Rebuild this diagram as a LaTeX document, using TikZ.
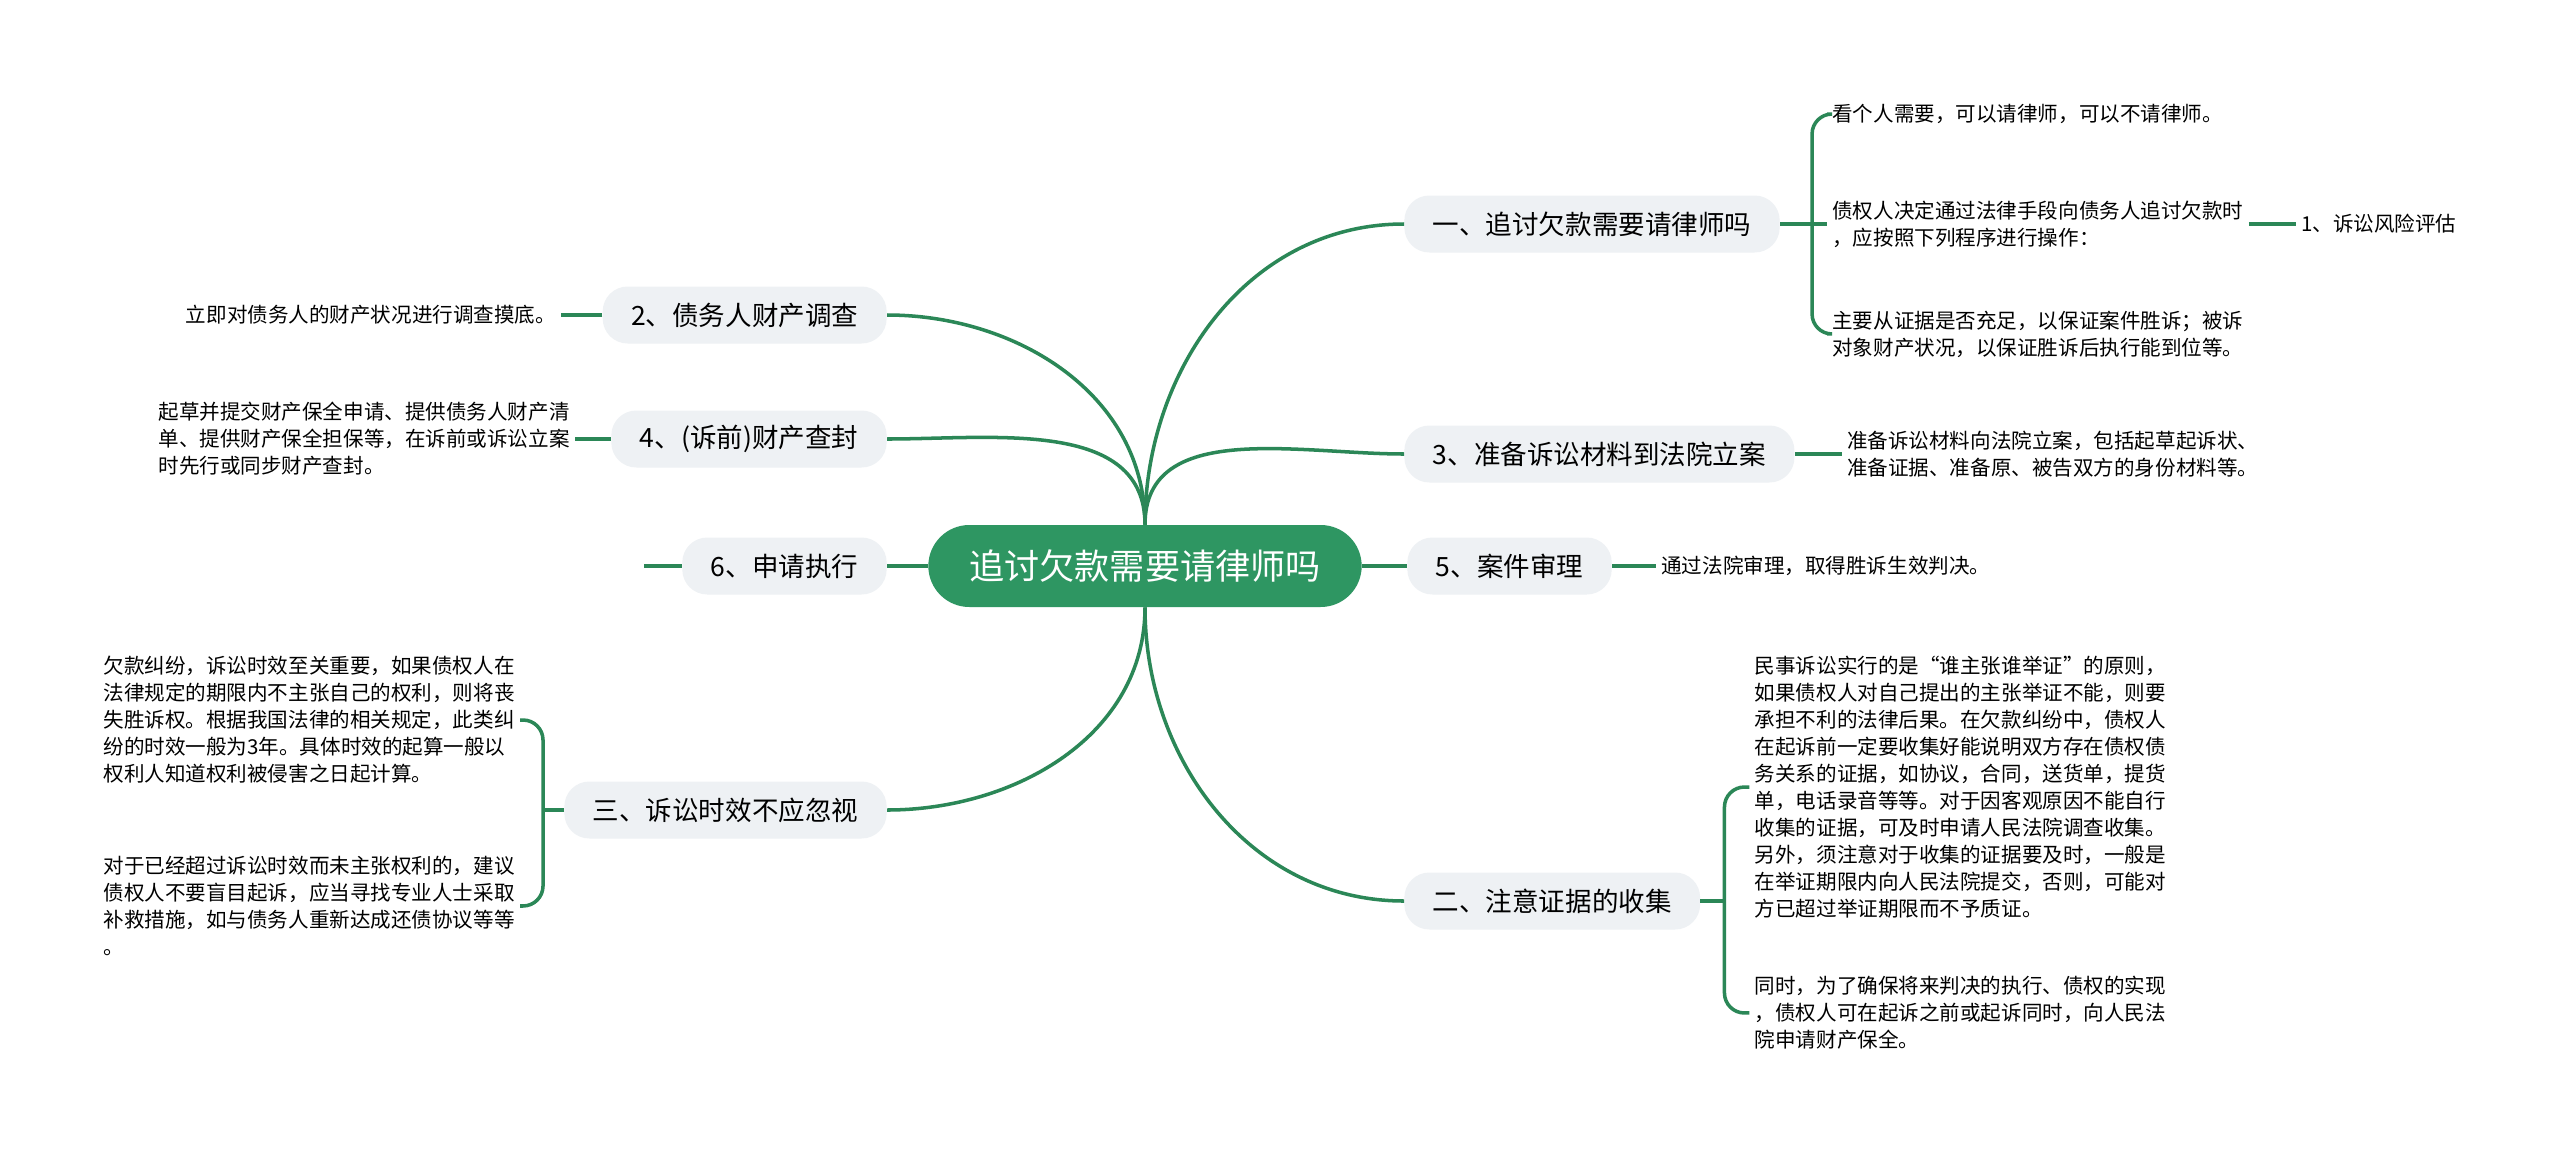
\documentclass[tikz,border=0pt]{standalone}
\usepackage{fontspec}
\setmainfont{Noto Sans CJK SC}
\usepackage{xcolor}
\usetikzlibrary{positioning}
\definecolor{mapgreen}{HTML}{2B8757}
\definecolor{rootgreen}{HTML}{2E9662}
\definecolor{topicgrey}{HTML}{EEF1F4}

\begin{document}
\begin{tikzpicture}[
  x=0.02cm, y=-0.02cm,
  node distance=8mm,
  root/.style={fill=rootgreen, text=white, rounded corners=0.82cm, minimum height=1.64cm, inner xsep=0.82cm, font=\fontsize{20}{24}\selectfont},
  topic/.style={fill=topicgrey, rounded corners=0.5cm, minimum height=1.14cm, inner xsep=0.57cm, font=\fontsize{15.1}{18}\selectfont},
  leaf/.style={align=left, inner xsep=0.1cm, inner ysep=0pt, font=\fontsize{11.7}{15.4}\selectfont},
  conn/.style={draw=mapgreen, line width=2pt},
  brace/.style={conn, rounded corners=0.4cm}
]
\fill[white] (0,0) rectangle (2560,1160);
\useasboundingbox (0,0) rectangle (2560,1160);

\node[root] (root) at (1145,566) {追讨欠款需要请律师吗};

% right side
\node[topic, anchor=west] (need) at (1404,224) {一、追讨欠款需要请律师吗};
\node[topic, anchor=west] (file) at (1404,454) {3、准备诉讼材料到法院立案};
\node[topic, anchor=west] (trial) at (1407,566) {5、案件审理};
\node[topic, anchor=west] (evid) at (1404,901) {二、注意证据的收集};

% left side
\node[topic, anchor=east] (survey) at (887,315) {2、债务人财产调查};
\node[topic, anchor=east] (seal) at (887,439) {4、(诉前)财产查封};
\node[topic, anchor=east] (exec) at (887,566) {6、申请执行};
\node[topic, anchor=east] (limit) at (887,810) {三、诉讼时效不应忽视};

% leaves of need
\node[leaf, right=0.94cm of need] (needb) {债权人决定通过法律手段向债务人追讨欠款时\\，应按照下列程序进行操作：};
\node[leaf, above=2.2cm of needb.west, anchor=west] (needa) {看个人需要，可以请律师，可以不请律师。};
\node[leaf, below=2.2cm of needb.west, anchor=west] (needc) {主要从证据是否充足，以保证案件胜诉；被诉\\对象财产状况，以保证胜诉后执行能到位等。};
\node[leaf, right=0.94cm of needb] (risk) {1、诉讼风险评估};
\coordinate[right=0.64cm of need.east] (needfork);

\node[leaf, right=0.94cm of file] (filetxt) {准备诉讼材料向法院立案，包括起草起诉状、\\准备证据、准备原、被告双方的身份材料等。};
\node[leaf, right=0.88cm of trial] (trialtxt) {通过法院审理，取得胜诉生效判决。};

% leaves of evid
\coordinate[right=0.48cm of evid.east] (evidfork);
\node[leaf, above right=2.28cm and 0.98cm of evid.east, anchor=west] (evida) {民事诉讼实行的是“谁主张谁举证”的原则，\\如果债权人对自己提出的主张举证不能，则要\\承担不利的法律后果。在欠款纠纷中，债权人\\在起诉前一定要收集好能说明双方存在债权债\\务关系的证据，如协议，合同，送货单，提货\\单，电话录音等等。对于因客观原因不能自行\\收集的证据，可及时申请人民法院调查收集。\\另外，须注意对于收集的证据要及时，一般是\\在举证期限内向人民法院提交，否则，可能对\\方已超过举证期限而不予质证。};
\node[leaf, below right=2.24cm and 0.98cm of evid.east, anchor=west] (evidb) {同时，为了确保将来判决的执行、债权的实现\\，债权人可在起诉之前或起诉同时，向人民法\\院申请财产保全。};

% left leaves
\node[leaf, left=0.82cm of survey] (surveytxt) {立即对债务人的财产状况进行调查摸底。};
\node[leaf, left=0.72cm of seal] (sealtxt) {起草并提交财产保全申请、提供债务人财产清\\单、提供财产保全担保等，在诉前或诉讼立案\\时先行或同步财产查封。};
\coordinate[left=0.76cm of exec] (execend);

\coordinate[left=0.42cm of limit.west] (limitfork);
\node[leaf, above left=1.8cm and 0.88cm of limit.west, anchor=east] (limita) {欠款纠纷，诉讼时效至关重要，如果债权人在\\法律规定的期限内不主张自己的权利，则将丧\\失胜诉权。根据我国法律的相关规定，此类纠\\纷的时效一般为3年。具体时效的起算一般以\\权利人知道权利被侵害之日起计算。};
\node[leaf, below left=1.92cm and 0.88cm of limit.west, anchor=east] (limitb) {对于已经超过诉讼时效而未主张权利的，建议\\债权人不要盲目起诉，应当寻找专业人士采取\\补救措施，如与债务人重新达成还债协议等等\\。};

% root to topics
\draw[conn] (root.north) to[out=90,in=180] (need.west);
\draw[conn] (root.north) to[out=90,in=180] (file.west);
\draw[conn] (root.east) -- (trial.west);
\draw[conn] (root.south) to[out=-90,in=180] (evid.west);
\draw[conn] (root.north) to[out=90,in=0] (survey.east);
\draw[conn] (root.north) to[out=90,in=0] (seal.east);
\draw[conn] (root.west) -- (exec.east);
\draw[conn] (root.south) to[out=-90,in=0] (limit.east);

% topics to leaves
\draw[conn] (need) -- (needb);
\draw[brace] (needa.west) -| (needfork) |- (needc.west);
\draw[conn] (needb) -- (risk);
\draw[conn] (file) -- (filetxt);
\draw[conn] (trial) -- (trialtxt);
\draw[conn] (evid.east) -- (evidfork);
\draw[brace] (evida.west) -| (evidfork) |- (evidb.west);
\draw[conn] (survey) -- (surveytxt);
\draw[conn] (seal) -- (sealtxt);
\draw[conn] (exec) -- (execend);
\draw[conn] (limit.west) -- (limitfork);
\draw[brace] (limita.east) -| (limitfork) |- (limitb.east);
\end{tikzpicture}
\end{document}
